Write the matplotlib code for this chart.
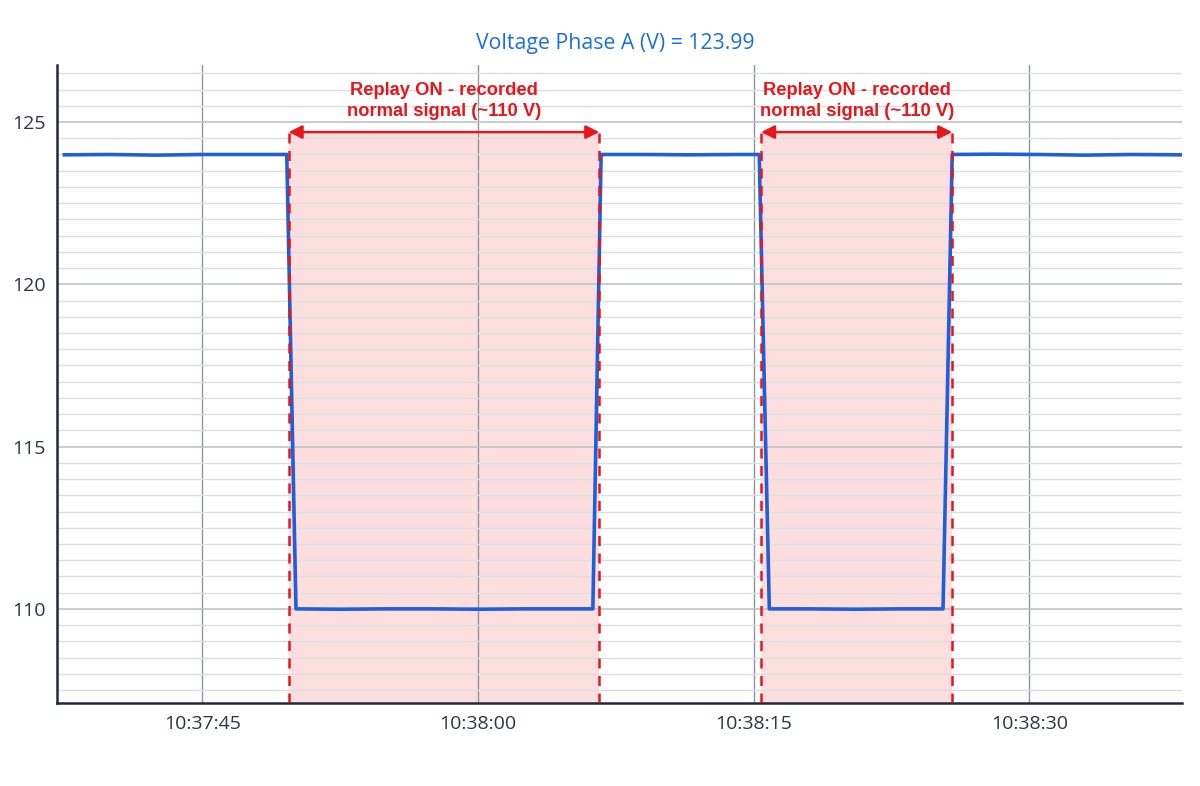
import pandas as pd
import matplotlib
matplotlib.use("Agg")
import matplotlib.pyplot as plt
import matplotlib.dates as mdates
from matplotlib.ticker import MultipleLocator

# sampled voltage (time of day, volts)
times = ["10:37:37.5", "10:37:40.0", "10:37:42.5", "10:37:45.0", "10:37:47.5",
         "10:37:49.6", "10:37:50.1", "10:37:52.5", "10:37:55.0", "10:37:57.5",
         "10:38:00.0", "10:38:02.5", "10:38:05.0", "10:38:06.25", "10:38:06.7",
         "10:38:09.0", "10:38:11.5", "10:38:14.0", "10:38:15.3", "10:38:15.85",
         "10:38:18.0", "10:38:20.5", "10:38:23.0", "10:38:25.3", "10:38:25.8",
         "10:38:28.0", "10:38:30.5", "10:38:33.0", "10:38:35.5", "10:38:38.3"]
volts = [123.99, 124.00, 123.98, 124.00, 124.00,
         124.00, 110.00, 109.99, 110.00, 110.00,
         109.99, 110.00, 110.00, 110.00, 124.00,
         124.00, 123.99, 124.00, 124.00, 110.00,
         110.00, 109.99, 110.00, 110.00, 124.00,
         124.01, 124.00, 123.98, 124.00, 123.99]

# replay windows
replay_start = ["10:37:49.7", "10:38:15.4"]
replay_end = ["10:38:06.6", "10:38:25.8"]
replay_label = "Replay ON - recorded\nnormal signal (~110 V)"
title = "Voltage Phase A (V) = 123.99"

day = "2024-01-01 "
t = pd.to_datetime([day + s for s in times])
rs = pd.to_datetime([day + s for s in replay_start])
re_ = pd.to_datetime([day + s for s in replay_end])

YMIN, YMAX = 107.1, 126.75
arrow_y = 124.69

fig = plt.figure(figsize=(12, 7.86), dpi=100)
ax = fig.add_axes([0.0475, 0.1056, 0.9375, 0.8114])

for a, b in zip(rs, re_):
    ax.fill_between([a, b], YMIN, arrow_y, color="#fcd9da", alpha=0.85,
                    lw=0, zorder=0)
    ax.vlines([a, b], YMIN, 124.87, colors="#e8161b", linestyles=(0, (4, 3)),
              lw=1.8, zorder=3)
    ax.annotate("", xy=(a, arrow_y), xytext=(b, arrow_y),
                arrowprops=dict(arrowstyle="<|-|>", color="#e8161b", lw=1.8,
                                mutation_scale=20, shrinkA=0, shrinkB=0),
                zorder=4)
    ax.text(a + (b - a) / 2, 125.66, replay_label, ha="center", va="center",
            color="#e8161b", fontsize=13.2, fontweight="bold",
            family="Liberation Sans", linespacing=1.3, zorder=4)

ax.plot(t, volts, color="#1f5fd8", lw=2.6, zorder=2)

ax.set_xlim(pd.Timestamp(day + "10:37:37.1"), pd.Timestamp(day + "10:38:38.3"))
ax.set_ylim(YMIN, YMAX)

ax.xaxis.set_major_locator(mdates.SecondLocator(bysecond=[0, 15, 30, 45]))
ax.xaxis.set_major_formatter(mdates.DateFormatter("%H:%M:%S"))
ax.yaxis.set_major_locator(MultipleLocator(5))
ax.yaxis.set_minor_locator(MultipleLocator(0.5))

ax.grid(axis="x", which="major", color="#8e949c", lw=1.0, zorder=1)
ax.grid(axis="y", which="major", color="#bfc3c9", lw=1.2, zorder=1)
ax.grid(axis="y", which="minor", color="#dcdfe3", lw=1.0, zorder=1)
ax.set_axisbelow(True)

for s in ["top", "right"]:
    ax.spines[s].set_visible(False)
for s in ["left", "bottom"]:
    ax.spines[s].set_color("#1e2a3a")
    ax.spines[s].set_linewidth(1.8)

ax.tick_params(axis="both", which="both", length=0, labelsize=14,
               labelcolor="#2a3547")
ax.tick_params(axis="y", pad=8)
ax.tick_params(axis="x", pad=9)
for lab in ax.get_xticklabels() + ax.get_yticklabels():
    lab.set_family("Open Sans")

fig.text(0.513, 0.945, title, ha="center", va="center", color="#1a6fe0",
         fontsize=15.3, family="Open Sans")

fig.savefig("out.png", dpi=100, facecolor="white")
